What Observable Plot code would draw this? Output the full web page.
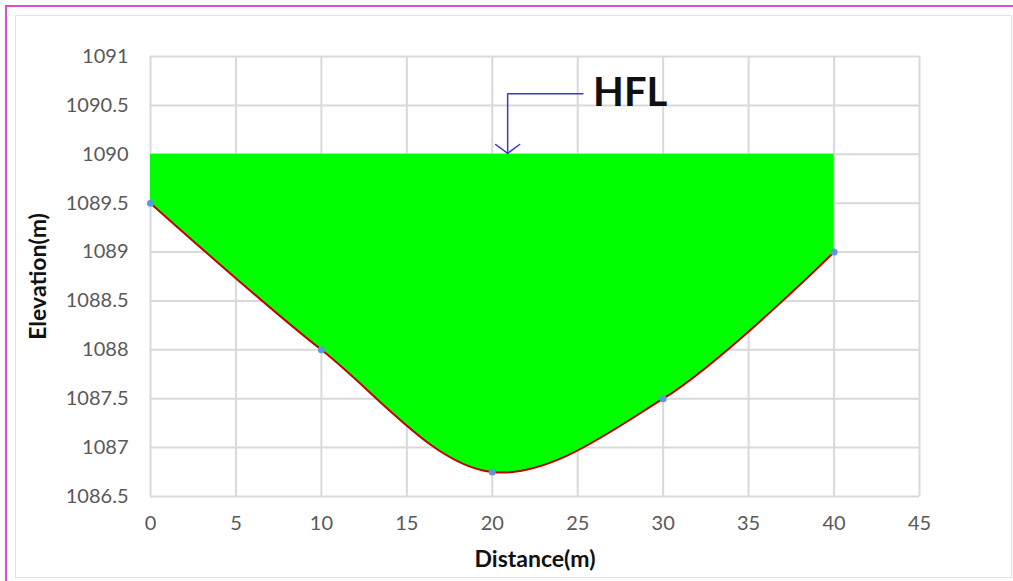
<!DOCTYPE html>
<html>
<head>
<meta charset="utf-8">
<script src="https://cdn.jsdelivr.net/npm/d3@7"></script>
<script src="https://cdn.jsdelivr.net/npm/@observablehq/plot@0.6"></script>
<style>
  html, body { margin: 0; padding: 0; background: #fff; }
  #wrap { position: relative; width: 1013px; height: 581px; overflow: hidden; }
  .b { position: absolute; }
</style>
</head>
<body>
<div id="wrap">
  <div class="b" style="left:5px;top:5px;width:1010px;height:2px;background:#d64fd6;"></div>
  <div class="b" style="left:5px;top:5px;width:2px;height:580px;background:#d64fd6;"></div>
  <div class="b" style="left:15px;top:15px;width:995px;height:561px;border:1px solid #e2e2e2;"></div>
</div>
<script>
// Data
const distance = [0, 10, 20, 30, 40];
const elevation = [1089.5, 1088, 1086.75, 1087.5, 1089];
const hfl = 1090;
const xTicks = [0, 5, 10, 15, 20, 25, 30, 35, 40, 45];
const yTicks = [1086.5, 1087, 1087.5, 1088, 1088.5, 1089, 1089.5, 1090, 1090.5, 1091];
// HFL annotation (label position and leader path, in data units)
const hflLabel = [{x: 25.9, y: 1090.62, text: "HFL"}];
const leaderX = [25.3, 20.9, 20.9];
const leaderY = [1090.62, 1090.62, 1090.01];
const headX = [20.2, 20.9, 21.6];
const headY = [1090.1, 1090.01, 1090.1];

const profile = distance.map((d, i) => ({x: d, y: elevation[i], top: hfl}));
const leader = leaderX.map((x, i) => ({x, y: leaderY[i]}));
const head = headX.map((x, i) => ({x, y: headY[i]}));

const font = "Lato, 'Open Sans', sans-serif";

const chart = Plot.plot({
  width: 1013,
  height: 581,
  marginLeft: 150,
  marginRight: 94,
  marginTop: 56,
  marginBottom: 85,
  style: {fontFamily: font, background: "transparent", overflow: "visible"},
  x: {domain: [0, 45], ticks: xTicks, label: null},
  y: {domain: [1086.5, 1091], ticks: yTicks, label: null},
  marks: [
    Plot.gridX(xTicks, {stroke: "#d9d9d9", strokeOpacity: 1, strokeWidth: 2}),
    Plot.gridY(yTicks, {stroke: "#d9d9d9", strokeOpacity: 1, strokeWidth: 2}),
    Plot.areaY(profile, {x: "x", y1: "y", y2: "top", fill: "#00ff00", curve: "catmull-rom"}),
    Plot.line(profile, {x: "x", y: "y", stroke: "#c00000", strokeWidth: 2, curve: "catmull-rom"}),
    Plot.dot(profile, {x: "x", y: "y", r: 3.5, fill: "#5b9bd5", stroke: "none"}),
    Plot.line(leader, {x: "x", y: "y", stroke: "#3b3bc4", strokeWidth: 1.5}),
    Plot.line(head, {x: "x", y: "y", stroke: "#3b3bc4", strokeWidth: 1.5}),
    Plot.text(hflLabel, {x: "x", y: "y", text: "text", textAnchor: "start", fontSize: 40, fontWeight: "bold", fill: "#111", fontFamily: font}),
    Plot.axisX(xTicks, {tickSize: 0, tickPadding: 19, fontSize: 20, color: "#595959", label: null}),
    Plot.axisY(yTicks, {tickSize: 0, tickPadding: 22, fontSize: 20, color: "#595959", label: null, tickFormat: d => String(d)}),
    Plot.text(["Distance(m)"], {frameAnchor: "bottom", dy: 70, fontSize: 23, fontWeight: "bold", fill: "#111", fontFamily: font}),
    Plot.text(["Elevation(m)"], {frameAnchor: "left", dx: -112, rotate: -90, textAnchor: "middle", fontSize: 23, fontWeight: "bold", fill: "#111", fontFamily: font})
  ]
});
chart.style.position = "absolute";
chart.style.left = "0px";
chart.style.top = "0px";
document.getElementById("wrap").appendChild(chart);
</script>
</body>
</html>
